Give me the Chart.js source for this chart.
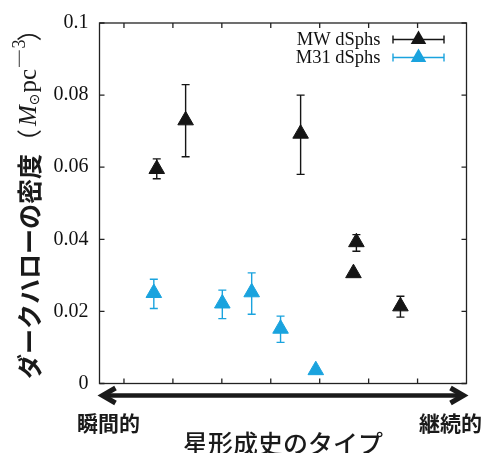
<!DOCTYPE html>
<html>
<head>
<meta charset="utf-8">
<script src="https://cdn.jsdelivr.net/npm/chart.js@4.4.0/dist/chart.umd.min.js"></script>
<style>
  body { margin: 0; background: #fff; }
  #wrap { width: 483px; height: 453px; }
</style>
</head>
<body>
<div id="wrap"><canvas id="densityChart"></canvas></div>
<script>
// position along the star formation history axis (arbitrary units) and dark halo density
const mwX = [1.67, 2.26, 4.61, 5.75, 5.69, 6.65];
const mwY = [0.0595, 0.0730, 0.0693, 0.0392, 0.0306, 0.0214];
const mwLow = [0.0568, 0.0629, 0.0580, 0.0367, null, 0.0184];
const mwHigh = [0.0623, 0.0829, 0.0800, 0.0413, null, 0.0242];

const m31X = [1.61, 3.01, 3.61, 4.20, 4.92];
const m31Y = [0.0251, 0.0222, 0.0253, 0.0152, 0.0037];
const m31Low = [0.0208, 0.0180, 0.0192, 0.0114, null];
const m31High = [0.0289, 0.0259, 0.0307, 0.0187, null];

const yTicks = [0, 0.02, 0.04, 0.06, 0.08, 0.1];
const xTicks = [1, 2, 3, 4, 5, 6, 7];
const seriesNames = ['MW dSphs', 'M31 dSphs'];
const leftLabel = '瞬間的';
const rightLabel = '継続的';
const xTitle = '星形成史のタイプ';
const yTitleJa = 'ダークハローの密度';

const BLACK = '#151515';
const BLUE = '#1aa3de';
const JP = '"Noto Sans CJK JP", sans-serif';
const SERIF = '"Liberation Serif", "DejaVu Serif", serif';

function toPoints(xs, ys) {
    return xs.map((x, i) => ({ x: x, y: ys[i] }));
}

function triangle(ctx, x, y, r) {
    ctx.beginPath();
    ctx.moveTo(x, y - r);
    ctx.lineTo(x + r * 0.866, y + r / 2);
    ctx.lineTo(x - r * 0.866, y + r / 2);
    ctx.closePath();
    ctx.fill();
}

//frame with inward ticks + error bars (under the markers)
const underlay = {
    id: 'underlay',
    beforeDatasetsDraw(chart) {
        const ctx = chart.ctx, ca = chart.chartArea;
        const xs = chart.scales.x, ys = chart.scales.y;
        ctx.save();
        ctx.strokeStyle = '#222';
        ctx.lineWidth = 1.3;
        ctx.strokeRect(ca.left, ca.top, ca.right - ca.left, ca.bottom - ca.top);
        ctx.beginPath();
        ys.ticks.forEach(t => {
            const py = ys.getPixelForValue(t.value);
            ctx.moveTo(ca.left, py); ctx.lineTo(ca.left + 5, py);
            ctx.moveTo(ca.right, py); ctx.lineTo(ca.right - 5, py);
        });
        xs.ticks.forEach(t => {
            const px = xs.getPixelForValue(t.value);
            ctx.moveTo(px, ca.bottom); ctx.lineTo(px, ca.bottom - 5);
            ctx.moveTo(px, ca.top); ctx.lineTo(px, ca.top + 5);
        });
        ctx.stroke();

        chart.data.datasets.forEach((ds, i) => {
            const meta = chart.getDatasetMeta(i);
            ctx.strokeStyle = ds.borderColor;
            ctx.lineWidth = 1.4;
            ctx.beginPath();
            meta.data.forEach((pt, j) => {
                if (ds.errLow[j] == null) return;
                const top = ys.getPixelForValue(ds.errHigh[j]);
                const bot = ys.getPixelForValue(ds.errLow[j]);
                ctx.moveTo(pt.x, top); ctx.lineTo(pt.x, bot);
                ctx.moveTo(pt.x - 4, top); ctx.lineTo(pt.x + 4, top);
                ctx.moveTo(pt.x - 4, bot); ctx.lineTo(pt.x + 4, bot);
            });
            ctx.stroke();
        });
        ctx.restore();
    }
};

//legend, axis titles and the arrow
const overlay = {
    id: 'overlay',
    afterDraw(chart) {
        const ctx = chart.ctx, ca = chart.chartArea;
        ctx.save();

        // legend inside the top right corner
        chart.data.datasets.forEach((ds, i) => {
            const ly = ca.top + 16.5 + i * 18;
            ctx.fillStyle = '#111';
            ctx.font = '18.5px ' + SERIF;
            ctx.textAlign = 'right';
            ctx.textBaseline = 'middle';
            ctx.fillText(ds.label, ca.right - 86, ly + 1);
            const x0 = ca.right - 73.5, x1 = ca.right - 22.5;
            ctx.strokeStyle = ds.borderColor;
            ctx.lineWidth = 1.4;
            ctx.beginPath();
            ctx.moveTo(x0, ly); ctx.lineTo(x1, ly);
            ctx.moveTo(x0, ly - 4); ctx.lineTo(x0, ly + 4);
            ctx.moveTo(x1, ly - 4); ctx.lineTo(x1, ly + 4);
            ctx.stroke();
            ctx.fillStyle = ds.backgroundColor;
            triangle(ctx, (x0 + x1) / 2, ly, 9);
        });

        // double headed arrow under the plot
        const ay = ca.bottom + 12;
        ctx.strokeStyle = '#1a1a1a';
        ctx.lineWidth = 4.5;
        ctx.lineJoin = 'miter';
        ctx.beginPath();
        ctx.moveTo(ca.left + 3, ay); ctx.lineTo(ca.right - 3, ay);
        ctx.stroke();
        ctx.lineWidth = 5;
        ctx.beginPath();
        ctx.moveTo(ca.left + 16, ay - 7.5); ctx.lineTo(ca.left + 3, ay); ctx.lineTo(ca.left + 16, ay + 7.5);
        ctx.moveTo(ca.right - 16, ay - 7.5); ctx.lineTo(ca.right - 3, ay); ctx.lineTo(ca.right - 16, ay + 7.5);
        ctx.stroke();

        ctx.fillStyle = '#1a1a1a';
        ctx.textBaseline = 'middle';
        ctx.font = 'bold 21px ' + JP;
        ctx.textAlign = 'left';
        ctx.fillText(leftLabel, 77, 423);
        ctx.textAlign = 'right';
        ctx.fillText(rightLabel, 482, 423);
        ctx.font = '500 25px ' + JP;
        ctx.textAlign = 'center';
        ctx.fillText(xTitle, (ca.left + ca.right) / 2, 443);

        // rotated y title: ダークハローの密度（M⊙pc⁻³）
        ctx.translate(29, 379);
        ctx.rotate(-Math.PI / 2);
        ctx.textAlign = 'left';
        let pos = 0;
        const seg = (text, font, dy, sx) => {
            ctx.font = font;
            const w = ctx.measureText(text).width * (sx || 1);
            ctx.save();
            ctx.translate(pos, dy);
            ctx.scale(sx || 1, 1);
            ctx.fillText(text, 0, 0);
            ctx.restore();
            pos += w;
        };
        seg(yTitleJa, 'bold 25px ' + JP, 0);
        seg('（', '25px ' + JP, 0);
        pos += 3;
        seg('M', 'italic 25px ' + SERIF, 0);
        seg('⊙', '14px "DejaVu Sans"', 6);
        pos += 1;
        seg('pc', '25px ' + SERIF, 0);
        seg('−', '18px ' + SERIF, -9, 2);
        seg('3', '18px ' + SERIF, -9);
        pos -= 2;
        seg('）', '25px ' + JP, 0);
        ctx.restore();
    }
};

const chart = new Chart(document.getElementById('densityChart'), {
    type: 'scatter',
    data: {
        datasets: [{
            label: seriesNames[0],
            data: toPoints(mwX, mwY),
            errLow: mwLow,
            errHigh: mwHigh,
            backgroundColor: BLACK,
            borderColor: BLACK
        }, {
            label: seriesNames[1],
            data: toPoints(m31X, m31Y),
            errLow: m31Low,
            errHigh: m31High,
            backgroundColor: BLUE,
            borderColor: BLUE
        }]
    },
    options: {
        responsive: true,
        maintainAspectRatio: false,
        animation: false,
        events: [],
        layout: { padding: { top: 17.5, right: 16.5, left: 0, bottom: 0 } },
        elements: {
            point: { pointStyle: 'triangle', radius: 9, hoverRadius: 9, borderWidth: 1 }
        },
        plugins: {
            legend: { display: false },
            tooltip: { enabled: false }
        },
        scales: {
            x: {
                type: 'linear',
                min: 0.5,
                max: 8,
                afterFit: s => { s.height = 69.5; },
                afterBuildTicks: s => { s.ticks = xTicks.map(v => ({ value: v })); },
                ticks: { display: false },
                grid: { display: false, drawTicks: false },
                border: { display: false }
            },
            y: {
                min: 0,
                max: 0.1,
                afterFit: s => { s.width = 99.5; },
                afterBuildTicks: s => { s.ticks = yTicks.map(v => ({ value: v })); },
                grid: { display: false, drawTicks: false },
                border: { display: false },
                ticks: {
                    padding: 11,
                    color: '#111',
                    font: { family: SERIF, size: 20 },
                    callback: v => String(+v.toFixed(2))
                }
            }
        }
    },
    plugins: [underlay, overlay]
});
</script>
</body>
</html>
